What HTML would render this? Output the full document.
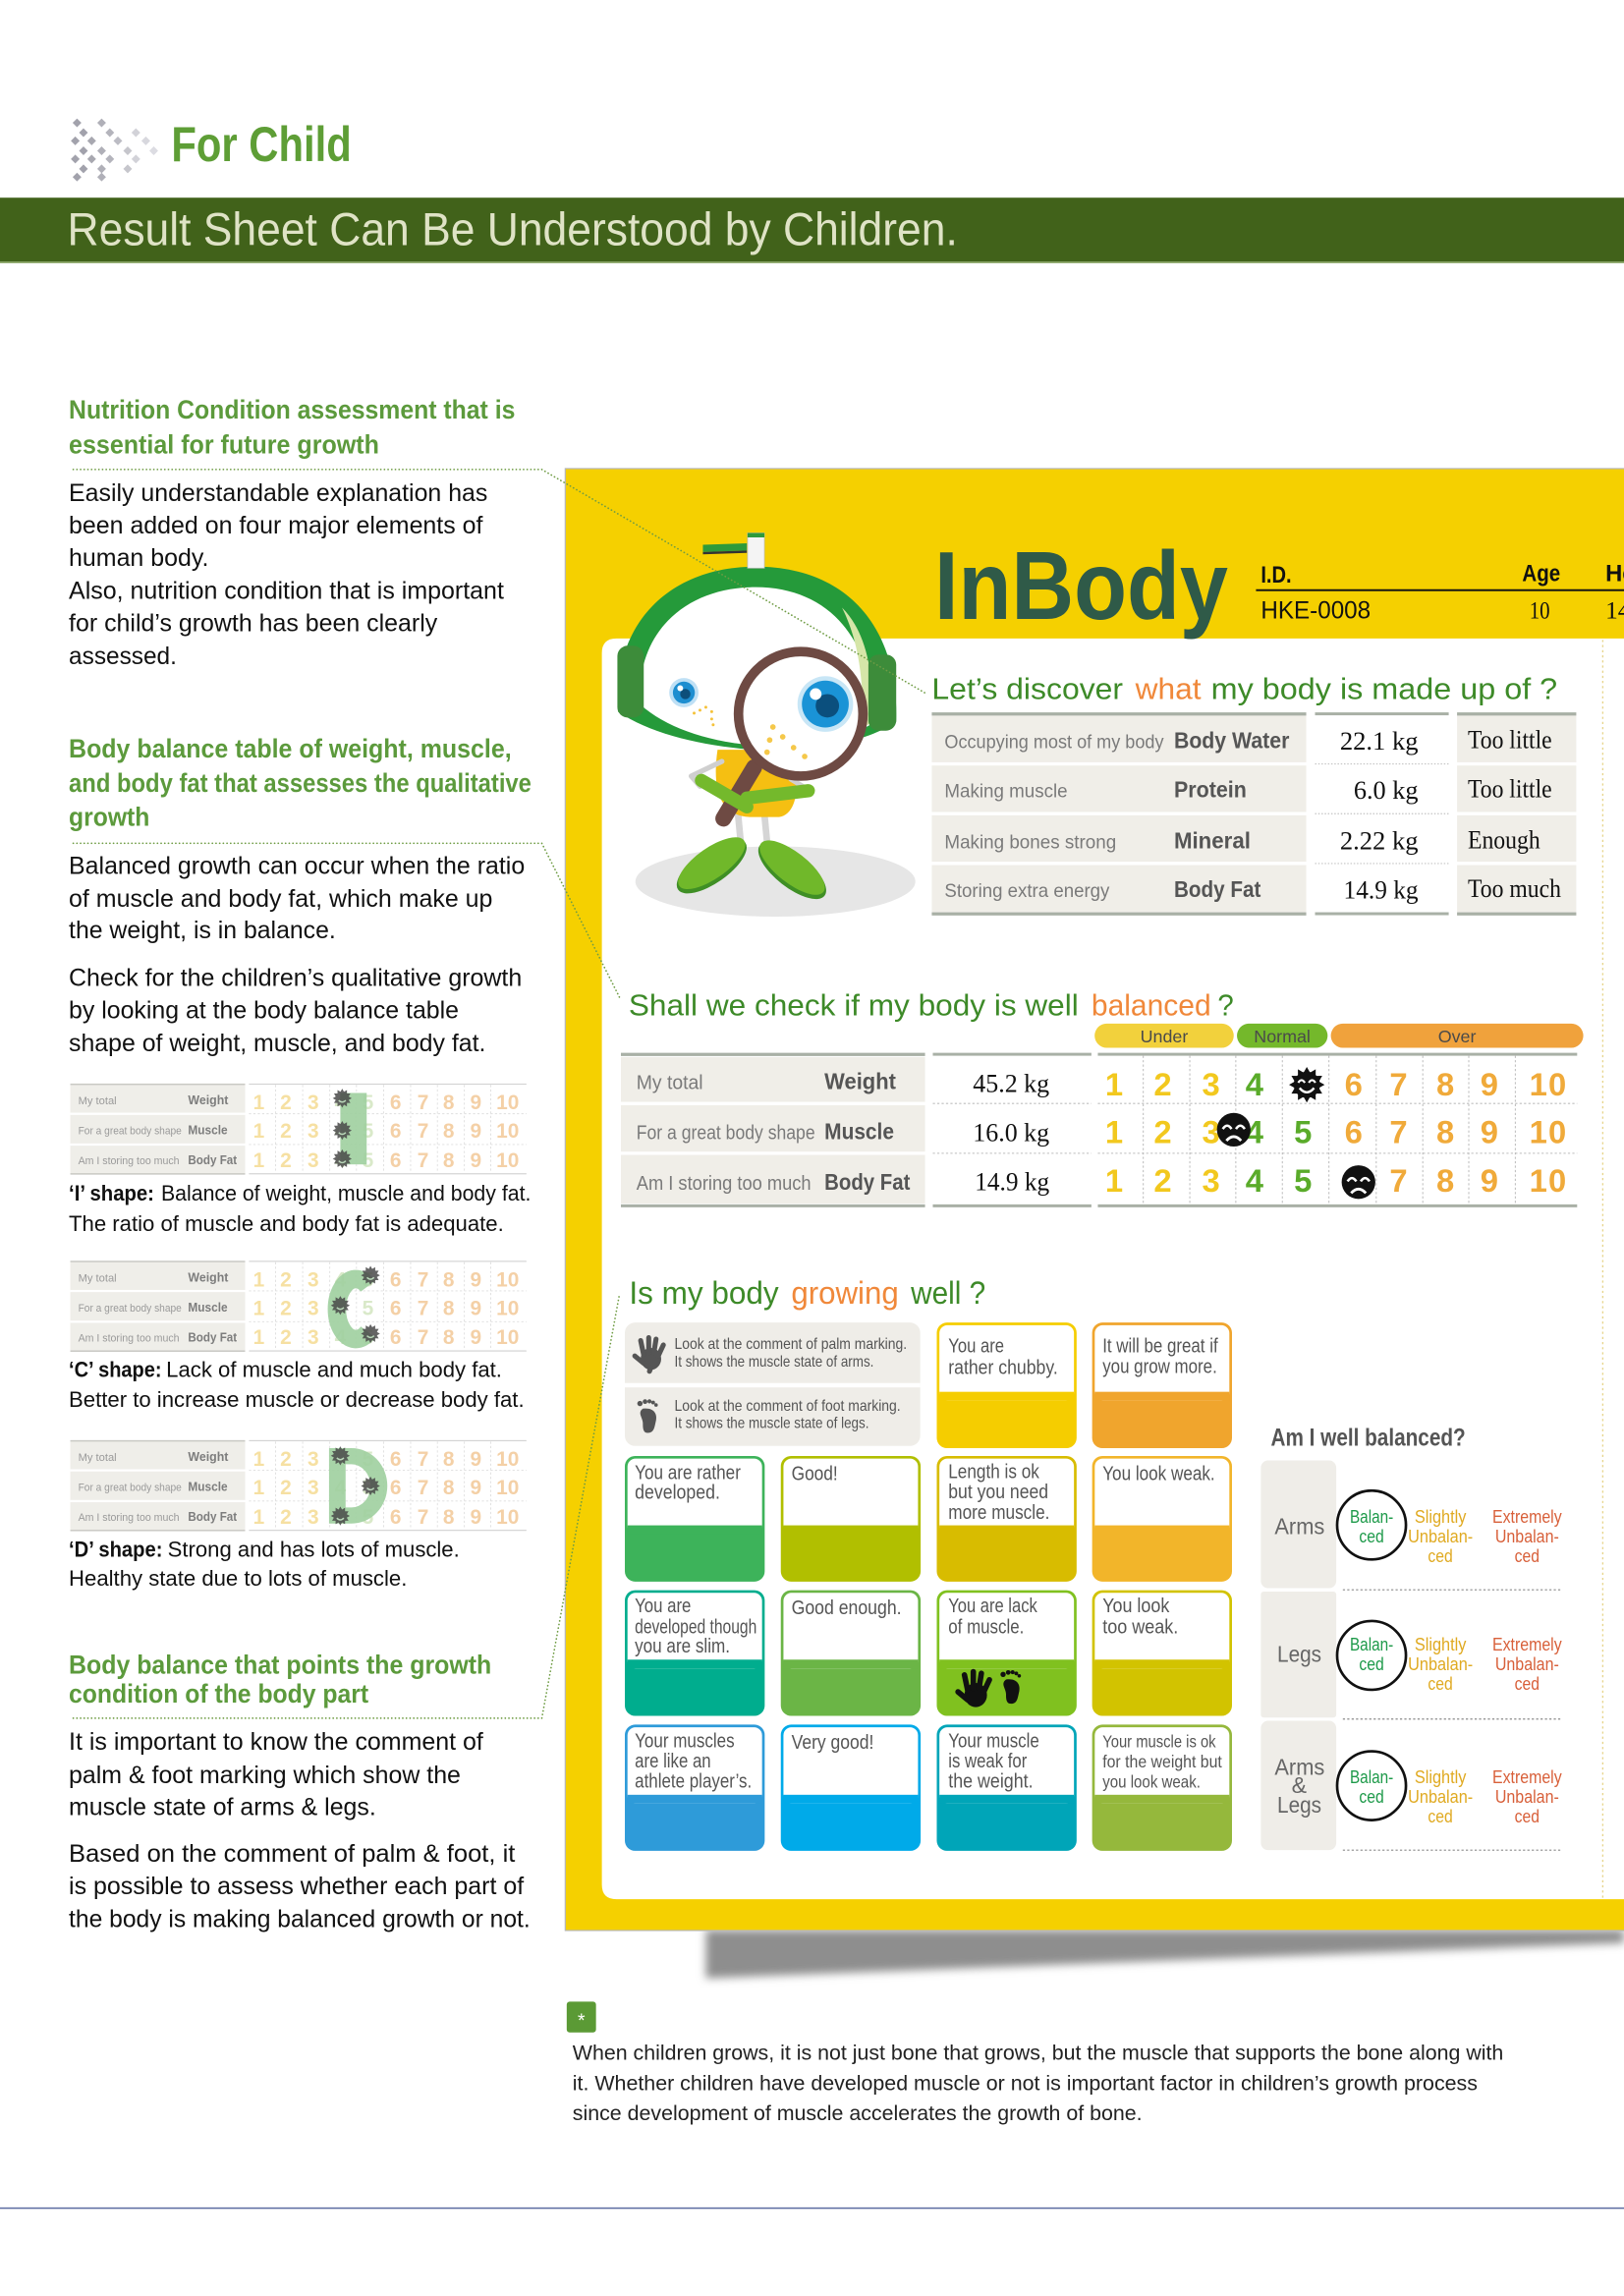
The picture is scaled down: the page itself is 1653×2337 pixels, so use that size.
<!DOCTYPE html>
<html><head><meta charset="utf-8">
<style>html,body{margin:0;padding:0;background:#fff;overflow:hidden}svg{display:block}</style>
</head><body>
<svg xmlns="http://www.w3.org/2000/svg" width="1653" height="2337" viewBox="0 0 1109 1568" preserveAspectRatio="none" font-family="'Liberation Sans', Arial, sans-serif">
<defs>
<filter id="blur" x="-10%" y="-50%" width="120%" height="200%"><feGaussianBlur stdDeviation="3"/></filter>
</defs>
<rect x="0" y="0" width="1109" height="1568" fill="#fff"/>

<!-- ===== HEADER ===== -->
<g>
<polygon points="52.6,80.9 55.6,83.9 52.6,86.9 49.6,83.9" fill="#a2a2ac"/>
<polygon points="69.4,80.9 72.4,83.9 69.4,86.9 66.4,83.9" fill="#b0b0b8"/>
<polygon points="57,87.6 60,90.6 57,93.6 54,90.6" fill="#a2a2ac"/>
<polygon points="75,87.6 78,90.6 75,93.6 72,90.6" fill="#b4b4bc"/>
<polygon points="92.8,87.6 95.8,90.6 92.8,93.6 89.8,90.6" fill="#d2d2d8"/>
<polygon points="51.4,93.2 54.4,96.2 51.4,99.2 48.4,96.2" fill="#a2a2ac"/>
<polygon points="62.6,93.2 65.6,96.2 62.6,99.2 59.6,96.2" fill="#a8a8b0"/>
<polygon points="80.5,93.2 83.5,96.2 80.5,99.2 77.5,96.2" fill="#bcbcc4"/>
<polygon points="99.6,93.2 102.6,96.2 99.6,99.2 96.6,96.2" fill="#d8d8de"/>
<polygon points="57,100 60,103 57,106 54,103" fill="#a2a2ac"/>
<polygon points="69.4,100 72.4,103 69.4,106 66.4,103" fill="#b0b0b8"/>
<polygon points="87.2,100 90.2,103 87.2,106 84.2,103" fill="#c6c6cc"/>
<polygon points="105,100 108,103 105,106 102,103" fill="#dcdce2"/>
<polygon points="51.4,105.6 54.4,108.6 51.4,111.6 48.4,108.6" fill="#a2a2ac"/>
<polygon points="62.6,105.6 65.6,108.6 62.6,111.6 59.6,108.6" fill="#a8a8b0"/>
<polygon points="75,105.6 78,108.6 75,111.6 72,108.6" fill="#b4b4bc"/>
<polygon points="92.8,105.6 95.8,108.6 92.8,111.6 89.8,108.6" fill="#d2d2d8"/>
<polygon points="57,112.3 60,115.3 57,118.3 54,115.3" fill="#a2a2ac"/>
<polygon points="69.4,112.3 72.4,115.3 69.4,118.3 66.4,115.3" fill="#b0b0b8"/>
<polygon points="87.2,112.3 90.2,115.3 87.2,118.3 84.2,115.3" fill="#c6c6cc"/>
<polygon points="52.6,117.9 55.6,120.9 52.6,123.9 49.6,120.9" fill="#a2a2ac"/>
<polygon points="69.4,117.9 72.4,120.9 69.4,123.9 66.4,120.9" fill="#b0b0b8"/>
</g>
<text x="117" y="110" font-size="33.5" font-weight="bold" fill="#5e9e36" textLength="123" lengthAdjust="spacingAndGlyphs">For Child</text>
<rect x="0" y="135" width="1109" height="44.5" fill="#41621a"/>
<rect x="0" y="178.6" width="1109" height="1.2" fill="#93ad72"/>
<text x="46" y="167.3" font-size="32" fill="#dfe3c6" textLength="608" lengthAdjust="spacingAndGlyphs">Result Sheet Can Be Understood by Children.</text>

<!-- ===== LEFT COLUMN ===== -->
<g font-weight="bold" fill="#5c9a3c" font-size="18">
<text x="47" y="285.8" textLength="304.8" lengthAdjust="spacingAndGlyphs">Nutrition Condition assessment that is</text>
<text x="47" y="309.8" textLength="211.9" lengthAdjust="spacingAndGlyphs">essential for future growth</text>
<text x="47" y="517.4" textLength="302.3" lengthAdjust="spacingAndGlyphs">Body balance table of weight, muscle,</text>
<text x="47" y="540.8" textLength="315.9" lengthAdjust="spacingAndGlyphs">and body fat that assesses the qualitative</text>
<text x="47" y="563.9" textLength="55.2" lengthAdjust="spacingAndGlyphs">growth</text>
<text x="47" y="1142.8" textLength="288.6" lengthAdjust="spacingAndGlyphs">Body balance that points the growth</text>
<text x="47" y="1162.9" textLength="204.7" lengthAdjust="spacingAndGlyphs">condition of the body part</text>
</g>
<g fill="#111" font-size="17">
<text x="47" y="342.1" textLength="286" lengthAdjust="spacingAndGlyphs">Easily understandable explanation has</text>
<text x="47" y="364.3" textLength="282.7" lengthAdjust="spacingAndGlyphs">been added on four major elements of</text>
<text x="47" y="386.5" textLength="95.5" lengthAdjust="spacingAndGlyphs">human body.</text>
<text x="47" y="409" textLength="297.1" lengthAdjust="spacingAndGlyphs">Also, nutrition condition that is important</text>
<text x="47" y="431.1" textLength="251.7" lengthAdjust="spacingAndGlyphs">for child’s growth has been clearly</text>
<text x="47" y="453.6" textLength="73.7" lengthAdjust="spacingAndGlyphs">assessed.</text>
<text x="47" y="596.8" textLength="311.4" lengthAdjust="spacingAndGlyphs">Balanced growth can occur when the ratio</text>
<text x="47" y="619.3" textLength="289.4" lengthAdjust="spacingAndGlyphs">of muscle and body fat, which make up</text>
<text x="47" y="640.9" textLength="182.3" lengthAdjust="spacingAndGlyphs">the weight, is in balance.</text>
<text x="47" y="673.2" textLength="309.4" lengthAdjust="spacingAndGlyphs">Check for the children’s qualitative growth</text>
<text x="47" y="695.4" textLength="266.3" lengthAdjust="spacingAndGlyphs">by looking at the body balance table</text>
<text x="47" y="717.9" textLength="284.7" lengthAdjust="spacingAndGlyphs">shape of weight, muscle, and body fat.</text>
<text x="47" y="1194.9" textLength="283" lengthAdjust="spacingAndGlyphs">It is important to know the comment of</text>
<text x="47" y="1217.7" textLength="267.6" lengthAdjust="spacingAndGlyphs">palm &amp; foot marking which show the</text>
<text x="47" y="1239.6" textLength="209.8" lengthAdjust="spacingAndGlyphs">muscle state of arms &amp; legs.</text>
<text x="47" y="1271.4" textLength="304.8" lengthAdjust="spacingAndGlyphs">Based on the comment of palm &amp; foot, it</text>
<text x="47" y="1293.7" textLength="310.7" lengthAdjust="spacingAndGlyphs">is possible to assess whether each part of</text>
<text x="47" y="1316.1" textLength="315.1" lengthAdjust="spacingAndGlyphs">the body is making balanced growth or not.</text>
</g>

<!-- mini tables -->
<g id="mini1">
<rect x="48" y="740.5" width="119.4" height="61.1" fill="#efeee9"/>
<rect x="48" y="759.9" width="119.4" height="1.5" fill="#fff"/>
<rect x="48" y="780.9" width="119.4" height="1.5" fill="#fff"/>
<rect x="48" y="740" width="119.4" height="1" fill="#c9c9c4"/>
<rect x="48" y="801.2" width="119.4" height="1" fill="#c9c9c4"/>
<rect x="170" y="740" width="189.5" height="0.8" fill="#d4d4d4"/>
<rect x="170" y="801.2" width="189.5" height="0.8" fill="#d4d4d4"/>
<g stroke="#dedede" stroke-width="0.6" stroke-dasharray="1.5 1.5">
<line x1="188.2" y1="741" x2="188.2" y2="801"/><line x1="206.7" y1="741" x2="206.7" y2="801"/><line x1="225.2" y1="741" x2="225.2" y2="801"/><line x1="243.4" y1="741" x2="243.4" y2="801"/><line x1="262" y1="741" x2="262" y2="801"/><line x1="280.4" y1="741" x2="280.4" y2="801"/><line x1="298.7" y1="741" x2="298.7" y2="801"/><line x1="317.1" y1="741" x2="317.1" y2="801"/><line x1="335.1" y1="741" x2="335.1" y2="801"/>
<line x1="170" y1="760.6" x2="359.5" y2="760.6"/><line x1="170" y1="781.6" x2="359.5" y2="781.6"/>
</g>
<g font-size="7.5" fill="#9a9a9a">
<text x="53.4" y="754.1" textLength="26.2" lengthAdjust="spacingAndGlyphs">My total</text>
<text x="53.4" y="774.7" textLength="70.6" lengthAdjust="spacingAndGlyphs">For a great body shape</text>
<text x="53.4" y="795.2" textLength="69.1" lengthAdjust="spacingAndGlyphs">Am I storing too much</text>
</g>
<g font-size="8.5" font-weight="bold" fill="#7d7d7d">
<text x="128.4" y="754.1" textLength="27.5" lengthAdjust="spacingAndGlyphs">Weight</text>
<text x="128.4" y="774.7" textLength="27" lengthAdjust="spacingAndGlyphs">Muscle</text>
<text x="128.4" y="795.2" textLength="33.4" lengthAdjust="spacingAndGlyphs">Body Fat</text>
</g>
<g font-size="14" font-weight="bold" text-anchor="middle">
<text y="757.5"><tspan x="176.7 195.2 213.9" fill="#f6e0a2">123</tspan><tspan x="232.4 251.2" fill="#d9e9c9">45</tspan><tspan x="270.2 288.9 306.4 324.9 342.8 350.6" fill="#f4d0a6">678910</tspan></text>
<text y="777"><tspan x="176.7 195.2 213.9" fill="#f6e0a2">123</tspan><tspan x="232.4 251.2" fill="#d9e9c9">45</tspan><tspan x="270.2 288.9 306.4 324.9 342.8 350.6" fill="#f4d0a6">678910</tspan></text>
<text y="797"><tspan x="176.7 195.2 213.9" fill="#f6e0a2">123</tspan><tspan x="232.4 251.2" fill="#d9e9c9">45</tspan><tspan x="270.2 288.9 306.4 324.9 342.8 350.6" fill="#f4d0a6">678910</tspan></text>
</g>
</g>
<g transform="translate(0,121)">
<rect x="48" y="740.5" width="119.4" height="61.1" fill="#efeee9"/>
<rect x="48" y="759.9" width="119.4" height="1.5" fill="#fff"/>
<rect x="48" y="780.9" width="119.4" height="1.5" fill="#fff"/>
<rect x="48" y="740" width="119.4" height="1" fill="#c9c9c4"/>
<rect x="48" y="801.2" width="119.4" height="1" fill="#c9c9c4"/>
<rect x="170" y="740" width="189.5" height="0.8" fill="#d4d4d4"/>
<rect x="170" y="801.2" width="189.5" height="0.8" fill="#d4d4d4"/>
<g stroke="#dedede" stroke-width="0.6" stroke-dasharray="1.5 1.5">
<line x1="188.2" y1="741" x2="188.2" y2="801"/><line x1="206.7" y1="741" x2="206.7" y2="801"/><line x1="225.2" y1="741" x2="225.2" y2="801"/><line x1="243.4" y1="741" x2="243.4" y2="801"/><line x1="262" y1="741" x2="262" y2="801"/><line x1="280.4" y1="741" x2="280.4" y2="801"/><line x1="298.7" y1="741" x2="298.7" y2="801"/><line x1="317.1" y1="741" x2="317.1" y2="801"/><line x1="335.1" y1="741" x2="335.1" y2="801"/>
<line x1="170" y1="760.6" x2="359.5" y2="760.6"/><line x1="170" y1="781.6" x2="359.5" y2="781.6"/>
</g>
<g font-size="7.5" fill="#9a9a9a">
<text x="53.4" y="754.1" textLength="26.2" lengthAdjust="spacingAndGlyphs">My total</text>
<text x="53.4" y="774.7" textLength="70.6" lengthAdjust="spacingAndGlyphs">For a great body shape</text>
<text x="53.4" y="795.2" textLength="69.1" lengthAdjust="spacingAndGlyphs">Am I storing too much</text>
</g>
<g font-size="8.5" font-weight="bold" fill="#7d7d7d">
<text x="128.4" y="754.1" textLength="27.5" lengthAdjust="spacingAndGlyphs">Weight</text>
<text x="128.4" y="774.7" textLength="27" lengthAdjust="spacingAndGlyphs">Muscle</text>
<text x="128.4" y="795.2" textLength="33.4" lengthAdjust="spacingAndGlyphs">Body Fat</text>
</g>
<g font-size="14" font-weight="bold" text-anchor="middle">
<text y="757.5"><tspan x="176.7 195.2 213.9" fill="#f6e0a2">123</tspan><tspan x="232.4 251.2" fill="#d9e9c9">45</tspan><tspan x="270.2 288.9 306.4 324.9 342.8 350.6" fill="#f4d0a6">678910</tspan></text>
<text y="777"><tspan x="176.7 195.2 213.9" fill="#f6e0a2">123</tspan><tspan x="232.4 251.2" fill="#d9e9c9">45</tspan><tspan x="270.2 288.9 306.4 324.9 342.8 350.6" fill="#f4d0a6">678910</tspan></text>
<text y="797"><tspan x="176.7 195.2 213.9" fill="#f6e0a2">123</tspan><tspan x="232.4 251.2" fill="#d9e9c9">45</tspan><tspan x="270.2 288.9 306.4 324.9 342.8 350.6" fill="#f4d0a6">678910</tspan></text>
</g>
</g>
<g transform="translate(0,243.5)">
<rect x="48" y="740.5" width="119.4" height="61.1" fill="#efeee9"/>
<rect x="48" y="759.9" width="119.4" height="1.5" fill="#fff"/>
<rect x="48" y="780.9" width="119.4" height="1.5" fill="#fff"/>
<rect x="48" y="740" width="119.4" height="1" fill="#c9c9c4"/>
<rect x="48" y="801.2" width="119.4" height="1" fill="#c9c9c4"/>
<rect x="170" y="740" width="189.5" height="0.8" fill="#d4d4d4"/>
<rect x="170" y="801.2" width="189.5" height="0.8" fill="#d4d4d4"/>
<g stroke="#dedede" stroke-width="0.6" stroke-dasharray="1.5 1.5">
<line x1="188.2" y1="741" x2="188.2" y2="801"/><line x1="206.7" y1="741" x2="206.7" y2="801"/><line x1="225.2" y1="741" x2="225.2" y2="801"/><line x1="243.4" y1="741" x2="243.4" y2="801"/><line x1="262" y1="741" x2="262" y2="801"/><line x1="280.4" y1="741" x2="280.4" y2="801"/><line x1="298.7" y1="741" x2="298.7" y2="801"/><line x1="317.1" y1="741" x2="317.1" y2="801"/><line x1="335.1" y1="741" x2="335.1" y2="801"/>
<line x1="170" y1="760.6" x2="359.5" y2="760.6"/><line x1="170" y1="781.6" x2="359.5" y2="781.6"/>
</g>
<g font-size="7.5" fill="#9a9a9a">
<text x="53.4" y="754.1" textLength="26.2" lengthAdjust="spacingAndGlyphs">My total</text>
<text x="53.4" y="774.7" textLength="70.6" lengthAdjust="spacingAndGlyphs">For a great body shape</text>
<text x="53.4" y="795.2" textLength="69.1" lengthAdjust="spacingAndGlyphs">Am I storing too much</text>
</g>
<g font-size="8.5" font-weight="bold" fill="#7d7d7d">
<text x="128.4" y="754.1" textLength="27.5" lengthAdjust="spacingAndGlyphs">Weight</text>
<text x="128.4" y="774.7" textLength="27" lengthAdjust="spacingAndGlyphs">Muscle</text>
<text x="128.4" y="795.2" textLength="33.4" lengthAdjust="spacingAndGlyphs">Body Fat</text>
</g>
<g font-size="14" font-weight="bold" text-anchor="middle">
<text y="757.5"><tspan x="176.7 195.2 213.9" fill="#f6e0a2">123</tspan><tspan x="232.4 251.2" fill="#d9e9c9">45</tspan><tspan x="270.2 288.9 306.4 324.9 342.8 350.6" fill="#f4d0a6">678910</tspan></text>
<text y="777"><tspan x="176.7 195.2 213.9" fill="#f6e0a2">123</tspan><tspan x="232.4 251.2" fill="#d9e9c9">45</tspan><tspan x="270.2 288.9 306.4 324.9 342.8 350.6" fill="#f4d0a6">678910</tspan></text>
<text y="797"><tspan x="176.7 195.2 213.9" fill="#f6e0a2">123</tspan><tspan x="232.4 251.2" fill="#d9e9c9">45</tspan><tspan x="270.2 288.9 306.4 324.9 342.8 350.6" fill="#f4d0a6">678910</tspan></text>
</g>
</g>
<!-- letter shapes -->
<g fill="#9fcf9f" fill-opacity="0.9">
<rect x="232.4" y="746.4" width="18" height="48.8"/>
<path d="M251.4 878.3 A13 20.5 0 1 0 251.4 909.7" fill="none" stroke="#9fcf9f" stroke-opacity="0.9" stroke-width="12.5"/>
<path fill-rule="evenodd" d="M224.7 989 H240 A24.5 25.75 0 0 1 240 1040.5 H224.7 Z M236 1000 H240 A13 14.75 0 0 1 240 1029.5 H236 Z"/>
</g>
<!-- bugs -->
<g fill="#4a4a4a" opacity="0.85">
<g transform="translate(233.7,750) scale(0.48)"><polygon points="13.5,0 9.18,2.46 11.69,6.75 6.72,6.72 6.75,11.69 2.46,9.18 0,13.5 -2.46,9.18 -6.75,11.69 -6.72,6.72 -11.69,6.75 -9.18,2.46 -13.5,0 -9.18,-2.46 -11.69,-6.75 -6.72,-6.72 -6.75,-11.69 -2.46,-9.18 0,-13.5 2.46,-9.18 6.75,-11.69 6.72,-6.72 11.69,-6.75 9.18,-2.46"/><path d="M-5 3 Q0 8 5 3" stroke="#bdd9bd" stroke-width="2" fill="none"/></g>
<g transform="translate(233.7,772) scale(0.48)"><polygon points="13.5,0 9.18,2.46 11.69,6.75 6.72,6.72 6.75,11.69 2.46,9.18 0,13.5 -2.46,9.18 -6.75,11.69 -6.72,6.72 -11.69,6.75 -9.18,2.46 -13.5,0 -9.18,-2.46 -11.69,-6.75 -6.72,-6.72 -6.75,-11.69 -2.46,-9.18 0,-13.5 2.46,-9.18 6.75,-11.69 6.72,-6.72 11.69,-6.75 9.18,-2.46"/><path d="M-5 3 Q0 8 5 3" stroke="#bdd9bd" stroke-width="2" fill="none"/></g>
<g transform="translate(233.7,791.4) scale(0.48)"><polygon points="13.5,0 9.18,2.46 11.69,6.75 6.72,6.72 6.75,11.69 2.46,9.18 0,13.5 -2.46,9.18 -6.75,11.69 -6.72,6.72 -11.69,6.75 -9.18,2.46 -13.5,0 -9.18,-2.46 -11.69,-6.75 -6.72,-6.72 -6.75,-11.69 -2.46,-9.18 0,-13.5 2.46,-9.18 6.75,-11.69 6.72,-6.72 11.69,-6.75 9.18,-2.46"/><path d="M-5 3 Q0 8 5 3" stroke="#bdd9bd" stroke-width="2" fill="none"/></g>
<g transform="translate(253,871) scale(0.48)"><polygon points="13.5,0 9.18,2.46 11.69,6.75 6.72,6.72 6.75,11.69 2.46,9.18 0,13.5 -2.46,9.18 -6.75,11.69 -6.72,6.72 -11.69,6.75 -9.18,2.46 -13.5,0 -9.18,-2.46 -11.69,-6.75 -6.72,-6.72 -6.75,-11.69 -2.46,-9.18 0,-13.5 2.46,-9.18 6.75,-11.69 6.72,-6.72 11.69,-6.75 9.18,-2.46"/><path d="M-5 3 Q0 8 5 3" stroke="#bdd9bd" stroke-width="2" fill="none"/></g>
<g transform="translate(232.4,891.5) scale(0.48)"><polygon points="13.5,0 9.18,2.46 11.69,6.75 6.72,6.72 6.75,11.69 2.46,9.18 0,13.5 -2.46,9.18 -6.75,11.69 -6.72,6.72 -11.69,6.75 -9.18,2.46 -13.5,0 -9.18,-2.46 -11.69,-6.75 -6.72,-6.72 -6.75,-11.69 -2.46,-9.18 0,-13.5 2.46,-9.18 6.75,-11.69 6.72,-6.72 11.69,-6.75 9.18,-2.46"/><path d="M-5 3 Q0 8 5 3" stroke="#bdd9bd" stroke-width="2" fill="none"/></g>
<g transform="translate(253,910.8) scale(0.48)"><polygon points="13.5,0 9.18,2.46 11.69,6.75 6.72,6.72 6.75,11.69 2.46,9.18 0,13.5 -2.46,9.18 -6.75,11.69 -6.72,6.72 -11.69,6.75 -9.18,2.46 -13.5,0 -9.18,-2.46 -11.69,-6.75 -6.72,-6.72 -6.75,-11.69 -2.46,-9.18 0,-13.5 2.46,-9.18 6.75,-11.69 6.72,-6.72 11.69,-6.75 9.18,-2.46"/><path d="M-5 3 Q0 8 5 3" stroke="#bdd9bd" stroke-width="2" fill="none"/></g>
<g transform="translate(232.4,994.2) scale(0.48)"><polygon points="13.5,0 9.18,2.46 11.69,6.75 6.72,6.72 6.75,11.69 2.46,9.18 0,13.5 -2.46,9.18 -6.75,11.69 -6.72,6.72 -11.69,6.75 -9.18,2.46 -13.5,0 -9.18,-2.46 -11.69,-6.75 -6.72,-6.72 -6.75,-11.69 -2.46,-9.18 0,-13.5 2.46,-9.18 6.75,-11.69 6.72,-6.72 11.69,-6.75 9.18,-2.46"/><path d="M-5 3 Q0 8 5 3" stroke="#bdd9bd" stroke-width="2" fill="none"/></g>
<g transform="translate(253,1014.8) scale(0.48)"><polygon points="13.5,0 9.18,2.46 11.69,6.75 6.72,6.72 6.75,11.69 2.46,9.18 0,13.5 -2.46,9.18 -6.75,11.69 -6.72,6.72 -11.69,6.75 -9.18,2.46 -13.5,0 -9.18,-2.46 -11.69,-6.75 -6.72,-6.72 -6.75,-11.69 -2.46,-9.18 0,-13.5 2.46,-9.18 6.75,-11.69 6.72,-6.72 11.69,-6.75 9.18,-2.46"/><path d="M-5 3 Q0 8 5 3" stroke="#bdd9bd" stroke-width="2" fill="none"/></g>
<g transform="translate(232.4,1035.3) scale(0.48)"><polygon points="13.5,0 9.18,2.46 11.69,6.75 6.72,6.72 6.75,11.69 2.46,9.18 0,13.5 -2.46,9.18 -6.75,11.69 -6.72,6.72 -11.69,6.75 -9.18,2.46 -13.5,0 -9.18,-2.46 -11.69,-6.75 -6.72,-6.72 -6.75,-11.69 -2.46,-9.18 0,-13.5 2.46,-9.18 6.75,-11.69 6.72,-6.72 11.69,-6.75 9.18,-2.46"/><path d="M-5 3 Q0 8 5 3" stroke="#bdd9bd" stroke-width="2" fill="none"/></g>
</g>
<!-- captions -->
<g fill="#111" font-size="15">
<text x="47" y="820" font-weight="bold" textLength="58.3" lengthAdjust="spacingAndGlyphs">‘I’ shape:</text>
<text x="110" y="820" textLength="252.6" lengthAdjust="spacingAndGlyphs">Balance of weight, muscle and body fat.</text>
<text x="47" y="840.7" textLength="297" lengthAdjust="spacingAndGlyphs">The ratio of muscle and body fat is adequate.</text>
<text x="47" y="940.3" font-weight="bold" textLength="63.4" lengthAdjust="spacingAndGlyphs">‘C’ shape:</text>
<text x="113.5" y="940.3" textLength="229.3" lengthAdjust="spacingAndGlyphs">Lack of muscle and much body fat.</text>
<text x="47" y="960.8" textLength="311" lengthAdjust="spacingAndGlyphs">Better to increase muscle or decrease body fat.</text>
<text x="47" y="1063" font-weight="bold" textLength="64" lengthAdjust="spacingAndGlyphs">‘D’ shape:</text>
<text x="114.5" y="1063" textLength="199.3" lengthAdjust="spacingAndGlyphs">Strong and has lots of muscle.</text>
<text x="47" y="1082.8" textLength="231" lengthAdjust="spacingAndGlyphs">Healthy state due to lots of muscle.</text>
</g>

<!-- ===== YELLOW PANEL ===== -->
<polygon points="482,1318 1109,1318 1109,1327 482,1351" fill="#8e8e8e" filter="url(#blur)"/>
<rect x="386" y="320" width="740" height="998.4" fill="#f5d000" stroke="#b7b7b7" stroke-width="0.8"/>
<path d="M421 436 H1120 V1297 H421 Q411 1297 411 1287 V446 Q411 436 421 436 Z" fill="#fff"/>
<line x1="1094.5" y1="437" x2="1094.5" y2="1296" stroke="#e7d58c" stroke-width="0.9" stroke-dasharray="1.5 2"/>

<!-- InBody header -->
<text x="638" y="422.6" font-size="66" font-weight="bold" fill="#2f5a48" textLength="200.6" lengthAdjust="spacingAndGlyphs">InBody</text>
<g font-weight="bold" font-size="16" fill="#111">
<text x="861" y="398" textLength="21" lengthAdjust="spacingAndGlyphs">I.D.</text>
<text x="1039.5" y="397" textLength="26" lengthAdjust="spacingAndGlyphs">Age</text>
<text x="1096.3" y="397">He</text>
</g>
<rect x="857.7" y="402.4" width="260" height="1.3" fill="#111"/>
<text x="861" y="422.2" font-size="17" fill="#111" textLength="75" lengthAdjust="spacingAndGlyphs">HKE-0008</text>
<g font-family="'Liberation Serif', serif" font-size="17" fill="#111">
<text x="1044.4" y="422.2" textLength="14" lengthAdjust="spacingAndGlyphs">10</text>
<text x="1096.3" y="422.2">14</text>
</g>

<!-- mascot -->
<g>
<ellipse cx="529.5" cy="602" rx="95.6" ry="24" fill="#e6e6e6"/>
<path d="M504 556 L506 577" stroke="#d5d5d5" stroke-width="4.5" stroke-linecap="round"/>
<path d="M522 556 L524 577" stroke="#d5d5d5" stroke-width="4.5" stroke-linecap="round"/>
<ellipse cx="486" cy="591.5" rx="28" ry="11.5" transform="rotate(-35 486 591.5)" fill="#3f8f25"/>
<ellipse cx="486" cy="589.5" rx="27" ry="10.5" transform="rotate(-35 486 589.5)" fill="#70b82a"/>
<ellipse cx="541" cy="594.5" rx="28" ry="11.5" transform="rotate(38 541 594.5)" fill="#3f8f25"/>
<ellipse cx="541" cy="592.5" rx="27" ry="10.5" transform="rotate(38 541 592.5)" fill="#70b82a"/>
<path d="M490 512 C486 540 492 557 512 558 L532 558 C545 556 546 535 543 512 Z" fill="#f5bf12"/>
<path d="M493 520 L472 530 L478 537" stroke="#cfcfcf" stroke-width="3.5" fill="none" stroke-linecap="round" stroke-linejoin="round"/>
<path d="M540 532 L553 540" stroke="#cfcfcf" stroke-width="3.5" fill="none" stroke-linecap="round"/>
<path d="M515 524 L494 559" stroke="#6e4a43" stroke-width="11" stroke-linecap="round"/>
<path d="M479 533 L510 551" stroke="#74b92c" stroke-width="9" stroke-linecap="round"/>
<path d="M510 545 L552 540" stroke="#74b92c" stroke-width="9" stroke-linecap="round"/>
<path d="M422 486 C418 425 458 387 516 387 C578 387 614 428 612 493 C590 508 548 514 514 512 C478 509 444 501 422 486 Z" fill="#259a3a"/>
<path d="M437 481 C434 432 468 401 516 401 C566 401 597 437 596 494 C574 507 546 510 514 509 C482 506 455 497 437 481 Z" fill="#fff"/>
<path d="M575 415 C590 430 597 455 596 494 L589 496 C590 460 585 435 575 415 Z" fill="#d6e6a8"/>
<rect x="421.6" y="441" width="18" height="49" rx="7" fill="#3d8c3a"/>
<rect x="593" y="447" width="19" height="52" rx="7" fill="#3d8c3a"/>
<circle cx="467" cy="473" r="10" fill="#bfe0f5"/>
<circle cx="467" cy="473" r="7.5" fill="#1e8ed0"/>
<circle cx="468" cy="474" r="3.5" fill="#0d4f7a"/>
<circle cx="464.5" cy="470" r="2" fill="#fff"/>
<g fill="#f5c23a"><circle cx="474" cy="487" r="1"/><circle cx="478" cy="485" r="1"/><circle cx="482" cy="483" r="1"/><circle cx="486" cy="486" r="1"/><circle cx="486" cy="491" r="1"/><circle cx="487" cy="495" r="1"/></g>
<circle cx="546.8" cy="487.5" r="42.5" fill="#fff" stroke="#6e4a43" stroke-width="6.5"/>
<circle cx="563.6" cy="480.8" r="19" fill="#c8e6f6"/>
<circle cx="563.6" cy="480.8" r="16" fill="#1a93d6"/>
<circle cx="565" cy="482" r="8" fill="#0b4f7d"/>
<circle cx="557" cy="474" r="4" fill="#fff"/>
<g fill="#f5c84a"><circle cx="527.8" cy="496.5" r="1.9"/><circle cx="534.5" cy="503.2" r="1.9"/><circle cx="525.6" cy="505.4" r="1.9"/><circle cx="541.9" cy="510.6" r="1.9"/><circle cx="523.8" cy="513.7" r="1.9"/><circle cx="549.5" cy="516.6" r="1.9"/></g>
<rect x="510.5" y="364" width="11.5" height="24" fill="#f4f4f4" stroke="#bbb" stroke-width="0.5"/>
<rect x="510.5" y="364" width="11.5" height="3" fill="#2e9a3a"/>
<path d="M480 372 L510 371 L510 376 L480 377 Z" fill="#2e9a3a"/>
<path d="M480 377 L510 376 L510 377.6 L480 378.6 Z" fill="#333"/>
</g>

<!-- dotted connectors -->
<g fill="none" stroke="#6f9c44" stroke-width="1.1" stroke-dasharray="0.1 2.4" stroke-linecap="round">
<path d="M50 320.6 H370 L633 474"/>
<path d="M50 575.9 H370 L423 681"/>
<path d="M50 1173.4 H370 L423 884"/>
</g>

<!-- Let's discover -->
<g font-size="20.5">
<text x="636.3" y="477.4" fill="#3d8a28" textLength="130.6" lengthAdjust="spacingAndGlyphs">Let’s discover</text>
<text x="775.3" y="477.4" fill="#f0883a" textLength="44.9" lengthAdjust="spacingAndGlyphs">what</text>
<text x="827" y="477.4" fill="#3d8a28" textLength="236.5" lengthAdjust="spacingAndGlyphs">my body is made up of ?</text>
</g>
<!-- composition table -->
<g>
<rect x="636.3" y="488.6" width="255.7" height="32" fill="#f0eee8"/>
<rect x="636.3" y="522.8" width="255.7" height="31.7" fill="#f0eee8"/>
<rect x="636.3" y="556.8" width="255.7" height="31.7" fill="#f0eee8"/>
<rect x="636.3" y="590.8" width="255.7" height="32" fill="#f0eee8"/>
<rect x="995" y="488.6" width="81.4" height="32" fill="#f0eee8"/>
<rect x="995" y="522.8" width="81.4" height="31.7" fill="#f0eee8"/>
<rect x="995" y="556.8" width="81.4" height="31.7" fill="#f0eee8"/>
<rect x="995" y="590.8" width="81.4" height="32" fill="#f0eee8"/>
<g fill="#a9b0a6">
<rect x="636.3" y="486.5" width="255.7" height="2.2"/><rect x="636.3" y="623" width="255.7" height="2.2"/>
<rect x="898" y="486.5" width="91.3" height="2"/><rect x="898" y="623" width="91.3" height="2"/>
<rect x="995" y="486.5" width="81.4" height="2.2"/><rect x="995" y="623" width="81.4" height="2.2"/>
</g>
<g stroke="#c4c4c4" stroke-width="0.8" stroke-dasharray="1 1.2">
<line x1="898" y1="521.7" x2="989.3" y2="521.7"/><line x1="898" y1="555.7" x2="989.3" y2="555.7"/><line x1="898" y1="589.7" x2="989.3" y2="589.7"/>
</g>
<g font-size="13" fill="#7a7a7a">
<text x="645" y="511" textLength="149.7" lengthAdjust="spacingAndGlyphs">Occupying most of my body</text>
<text x="645" y="544.5" textLength="84" lengthAdjust="spacingAndGlyphs">Making muscle</text>
<text x="645" y="579.2" textLength="117.3" lengthAdjust="spacingAndGlyphs">Making bones strong</text>
<text x="645" y="612.7" textLength="112.7" lengthAdjust="spacingAndGlyphs">Storing extra energy</text>
</g>
<g font-size="15.5" font-weight="bold" fill="#555">
<text x="801.7" y="511" textLength="78.8" lengthAdjust="spacingAndGlyphs">Body Water</text>
<text x="801.7" y="544.5" textLength="49.6" lengthAdjust="spacingAndGlyphs">Protein</text>
<text x="801.7" y="579.2" textLength="52.3" lengthAdjust="spacingAndGlyphs">Mineral</text>
<text x="801.7" y="612.7" textLength="59.3" lengthAdjust="spacingAndGlyphs">Body Fat</text>
</g>
<g font-family="'Liberation Serif', serif" font-size="18" fill="#111">
<text x="915" y="512" textLength="53.5" lengthAdjust="spacingAndGlyphs">22.1 kg</text>
<text x="924.4" y="545.5" textLength="44.1" lengthAdjust="spacingAndGlyphs">6.0 kg</text>
<text x="915" y="580" textLength="53.5" lengthAdjust="spacingAndGlyphs">2.22 kg</text>
<text x="917.5" y="613.5" textLength="51" lengthAdjust="spacingAndGlyphs">14.9 kg</text>
<text x="1002.3" y="511" textLength="57.5" lengthAdjust="spacingAndGlyphs">Too little</text>
<text x="1002.3" y="544.5" textLength="57.5" lengthAdjust="spacingAndGlyphs">Too little</text>
<text x="1002.3" y="579.2" textLength="49.5" lengthAdjust="spacingAndGlyphs">Enough</text>
<text x="1002.3" y="612.7" textLength="63.7" lengthAdjust="spacingAndGlyphs">Too much</text>
</g>
</g>

<!-- Shall we check -->
<g font-size="20.5">
<text x="429.3" y="693.3" fill="#3d8a28" textLength="307.2" lengthAdjust="spacingAndGlyphs">Shall we check if my body is well</text>
<text x="745.3" y="693.3" fill="#f0883a" textLength="81.7" lengthAdjust="spacingAndGlyphs">balanced</text>
<text x="831.5" y="693.3" fill="#3d8a28" textLength="11" lengthAdjust="spacingAndGlyphs">?</text>
</g>
<rect x="747.5" y="699" width="95" height="16.6" rx="8.3" fill="#f2d13c"/>
<rect x="844.7" y="699" width="61.9" height="16.6" rx="8.3" fill="#74b82b"/>
<rect x="908.8" y="699" width="172.4" height="16.6" rx="8.3" fill="#f0a23c"/>
<g font-size="12" fill="#4a4a4a" text-anchor="middle">
<text x="795" y="711.8">Under</text>
<text x="875.6" y="711.8">Normal</text>
<text x="995" y="711.8">Over</text>
</g>
<g>
<rect x="424" y="721.9" width="207.7" height="30.6" fill="#f0eee8"/>
<rect x="424" y="754.8" width="207.7" height="31.7" fill="#f0eee8"/>
<rect x="424" y="788.7" width="207.7" height="33.3" fill="#f0eee8"/>
<g fill="#a9b0a6">
<rect x="424" y="719" width="207.7" height="2.2"/><rect x="424" y="822.5" width="207.7" height="2"/>
<rect x="637" y="719" width="108.3" height="2"/><rect x="637" y="822.5" width="108.3" height="2"/>
<rect x="749.7" y="719" width="327.3" height="2"/><rect x="749.7" y="822.5" width="327.3" height="2"/>
</g>
<g stroke="#bdbdbd" stroke-width="0.7" stroke-dasharray="1.5 1.5">
<line x1="637" y1="753.6" x2="745.3" y2="753.6"/><line x1="637" y1="787.6" x2="745.3" y2="787.6"/>
<line x1="749.7" y1="753.6" x2="1077" y2="753.6"/><line x1="749.7" y1="787.6" x2="1077" y2="787.6"/>
<line x1="780.7" y1="721" x2="780.7" y2="822"/><line x1="812.5" y1="721" x2="812.5" y2="822"/><line x1="843.9" y1="721" x2="843.9" y2="822"/><line x1="875.7" y1="721" x2="875.7" y2="822"/><line x1="907.5" y1="721" x2="907.5" y2="822"/><line x1="939.8" y1="721" x2="939.8" y2="822"/><line x1="971.6" y1="721" x2="971.6" y2="822"/><line x1="1003" y1="721" x2="1003" y2="822"/><line x1="1034.8" y1="721" x2="1034.8" y2="822"/>
</g>
<g font-size="13.5" fill="#7a7a7a">
<text x="434.6" y="743.6" textLength="45.5" lengthAdjust="spacingAndGlyphs">My total</text>
<text x="434.6" y="778" textLength="122" lengthAdjust="spacingAndGlyphs">For a great body shape</text>
<text x="434.6" y="812.5" textLength="119.3" lengthAdjust="spacingAndGlyphs">Am I storing too much</text>
</g>
<g font-size="15.5" font-weight="bold" fill="#555">
<text x="563" y="743.6" textLength="48.8" lengthAdjust="spacingAndGlyphs">Weight</text>
<text x="563" y="778" textLength="47.5" lengthAdjust="spacingAndGlyphs">Muscle</text>
<text x="563" y="812.5" textLength="58.5" lengthAdjust="spacingAndGlyphs">Body Fat</text>
</g>
<g font-family="'Liberation Serif', serif" font-size="18" fill="#111">
<text x="664.4" y="745.8" textLength="52.2" lengthAdjust="spacingAndGlyphs">45.2 kg</text>
<text x="664.4" y="779.4" textLength="52.2" lengthAdjust="spacingAndGlyphs">16.0 kg</text>
<text x="665.7" y="813" textLength="50.9" lengthAdjust="spacingAndGlyphs">14.9 kg</text>
</g>
<g font-size="22" font-weight="bold" text-anchor="middle">
<text y="748"><tspan x="760.8 794 827" fill="#f2c81e">123</tspan><tspan x="856.7" fill="#5aab2a">4</tspan><tspan x="924.3 955 987 1017 1050.5 1063.5" fill="#f0aa3a">678910</tspan></text>
<text y="780.5"><tspan x="760.8 794 827" fill="#f2c81e">123</tspan><tspan x="856.7 889.8" fill="#5aab2a">45</tspan><tspan x="924.3 955 987 1017 1050.5 1063.5" fill="#f0aa3a">678910</tspan></text>
<text y="814"><tspan x="760.8 794 827" fill="#f2c81e">123</tspan><tspan x="856.7 889.8" fill="#5aab2a">45</tspan><tspan x="955 987 1017 1050.5 1063.5" fill="#f0aa3a">78910</tspan></text>
</g>
<g transform="translate(892.4,740.8) scale(0.9)">
<polygon fill="#111" points="13.5,0 9.18,2.46 11.69,6.75 6.72,6.72 6.75,11.69 2.46,9.18 0,13.5 -2.46,9.18 -6.75,11.69 -6.72,6.72 -11.69,6.75 -9.18,2.46 -13.5,0 -9.18,-2.46 -11.69,-6.75 -6.72,-6.72 -6.75,-11.69 -2.46,-9.18 0,-13.5 2.46,-9.18 6.75,-11.69 6.72,-6.72 11.69,-6.75 9.18,-2.46"/>
<circle r="10" fill="#111"/>
<path d="M-6.5 -1.5 Q-4 -5.5 -1.5 -1.5 M1.5 -1.5 Q4 -5.5 6.5 -1.5" stroke="#fff" stroke-width="1.6" fill="none"/>
<path d="M-5.5 2.5 Q0 9 5.5 2.5" stroke="#fff" stroke-width="1.8" fill="none"/>
</g>
<g transform="translate(842.5,771.5)">
<circle r="11.5" fill="#111"/>
<path d="M-7.5 -0.5 Q-4.5 -5 -1.5 -0.5 M1.5 -0.5 Q4.5 -5 7.5 -0.5" stroke="#fff" stroke-width="1.7" fill="none"/>
<path d="M-5 7.5 Q0 2 5 7.5" stroke="#fff" stroke-width="1.9" fill="none"/>
</g>
<g transform="translate(927.7,807.3)">
<circle r="11.5" fill="#111"/>
<path d="M-7.5 -0.5 Q-4.5 -5 -1.5 -0.5 M1.5 -0.5 Q4.5 -5 7.5 -0.5" stroke="#fff" stroke-width="1.7" fill="none"/>
<path d="M-5 7.5 Q0 2 5 7.5" stroke="#fff" stroke-width="1.9" fill="none"/>
</g>
</g>

<!-- Is my body growing well -->
<g font-size="22">
<text x="429.6" y="890.3" fill="#3d8a28" textLength="102.2" lengthAdjust="spacingAndGlyphs">Is my body</text>
<text x="540.3" y="890.3" fill="#f0883a" textLength="73.4" lengthAdjust="spacingAndGlyphs">growing</text>
<text x="622" y="890.3" fill="#3d8a28" textLength="51" lengthAdjust="spacingAndGlyphs">well ?</text>
</g>
<!-- instruction box -->
<rect x="426.7" y="903.2" width="201.7" height="84.3" rx="7" fill="#efede8"/>
<rect x="426.7" y="944.5" width="201.7" height="3" fill="#fff"/>
<g fill="#555">
<g transform="translate(431.5,912)">
<ellipse cx="13" cy="16" rx="7" ry="7.5"/>
<g stroke="#555" stroke-width="3.4" stroke-linecap="round">
<line x1="8" y1="13" x2="6" y2="3.5"/><line x1="11.5" y1="12" x2="11.5" y2="1.5"/><line x1="15" y1="12" x2="16.5" y2="2.5"/><line x1="18" y1="14" x2="21.5" y2="6.5"/><line x1="8" y1="19" x2="2" y2="14"/><line x1="13" y1="22" x2="12" y2="24.5"/>
</g></g>
<g transform="translate(434,955)">
<path d="M5 7 C12 6 15 10 14 15 C13 19 13 23 9 23.5 C5 24 5 20 5 17 C5 13 1 10 5 7 Z"/>
<circle cx="3" cy="3.5" r="1.8"/><circle cx="6.5" cy="2.2" r="1.6"/><circle cx="9.5" cy="2" r="1.4"/><circle cx="12" cy="2.8" r="1.3"/><circle cx="14" cy="4.5" r="1.2"/>
</g>
</g>
<g font-size="10.5" fill="#555">
<text x="460.6" y="921.2" textLength="158.7" lengthAdjust="spacingAndGlyphs">Look at the comment of palm marking.</text>
<text x="460.6" y="933.3" textLength="136.1" lengthAdjust="spacingAndGlyphs">It shows the muscle state of arms.</text>
<text x="460.6" y="963.4" textLength="154.4" lengthAdjust="spacingAndGlyphs">Look at the comment of foot marking.</text>
<text x="460.6" y="975.2" textLength="132.8" lengthAdjust="spacingAndGlyphs">It shows the muscle state of legs.</text>
</g>

<!-- cards -->
<g>
<!-- row 0 -->
<rect x="639.7" y="903.2" width="95.5" height="85.8" rx="7" fill="#f5cd00"/><rect x="641.5" y="905" width="91.9" height="51.5" rx="5.5" fill="#fff"/><rect x="641.5" y="950.5" width="91.9" height="6" fill="#f5cd00"/>
<rect x="745.8" y="903.2" width="95.5" height="85.8" rx="7" fill="#f0a52d"/><rect x="747.6" y="905" width="91.9" height="51.5" rx="5.5" fill="#fff"/><rect x="747.6" y="950.5" width="91.9" height="6" fill="#f0a52d"/>
<!-- row 1 -->
<rect x="426.7" y="994.3" width="95.5" height="85.8" rx="7" fill="#3db35a"/><rect x="428.5" y="996.1" width="91.9" height="51.6" rx="5.5" fill="#fff"/><rect x="428.5" y="1041.7" width="91.9" height="6" fill="#3db35a"/>
<rect x="533.2" y="994.3" width="95.5" height="85.8" rx="7" fill="#b1bf00"/><rect x="535" y="996.1" width="91.9" height="51.6" rx="5.5" fill="#fff"/><rect x="535" y="1041.7" width="91.9" height="6" fill="#b1bf00"/>
<rect x="639.7" y="994.3" width="95.5" height="85.8" rx="7" fill="#d8bc00"/><rect x="641.5" y="996.1" width="91.9" height="51.6" rx="5.5" fill="#fff"/><rect x="641.5" y="1041.7" width="91.9" height="6" fill="#d8bc00"/>
<rect x="745.8" y="994.3" width="95.5" height="85.8" rx="7" fill="#f2b52a"/><rect x="747.6" y="996.1" width="91.9" height="51.6" rx="5.5" fill="#fff"/><rect x="747.6" y="1041.7" width="91.9" height="6" fill="#f2b52a"/>
<!-- row 2 -->
<rect x="426.7" y="1086" width="95.5" height="85.8" rx="7" fill="#00ad8e"/><rect x="428.5" y="1087.8" width="91.9" height="51.6" rx="5.5" fill="#fff"/><rect x="428.5" y="1133.4" width="91.9" height="6" fill="#00ad8e"/>
<rect x="533.2" y="1086" width="95.5" height="85.8" rx="7" fill="#6bb546"/><rect x="535" y="1087.8" width="91.9" height="51.6" rx="5.5" fill="#fff"/><rect x="535" y="1133.4" width="91.9" height="6" fill="#6bb546"/>
<rect x="639.7" y="1086" width="95.5" height="85.8" rx="7" fill="#80c11f"/><rect x="641.5" y="1087.8" width="91.9" height="51.6" rx="5.5" fill="#fff"/><rect x="641.5" y="1133.4" width="91.9" height="6" fill="#80c11f"/>
<rect x="745.8" y="1086" width="95.5" height="85.8" rx="7" fill="#d2c300"/><rect x="747.6" y="1087.8" width="91.9" height="51.6" rx="5.5" fill="#fff"/><rect x="747.6" y="1133.4" width="91.9" height="6" fill="#d2c300"/>
<!-- row 3 -->
<rect x="426.7" y="1177.8" width="95.5" height="86.2" rx="7" fill="#2e9bd9"/><rect x="428.5" y="1179.6" width="91.9" height="52.1" rx="5.5" fill="#fff"/><rect x="428.5" y="1225.7" width="91.9" height="6" fill="#2e9bd9"/>
<rect x="533.2" y="1177.8" width="95.5" height="86.2" rx="7" fill="#00aae9"/><rect x="535" y="1179.6" width="91.9" height="52.1" rx="5.5" fill="#fff"/><rect x="535" y="1225.7" width="91.9" height="6" fill="#00aae9"/>
<rect x="639.7" y="1177.8" width="95.5" height="86.2" rx="7" fill="#00a5b8"/><rect x="641.5" y="1179.6" width="91.9" height="52.1" rx="5.5" fill="#fff"/><rect x="641.5" y="1225.7" width="91.9" height="6" fill="#00a5b8"/>
<rect x="745.8" y="1177.8" width="95.5" height="86.2" rx="7" fill="#95b83c"/><rect x="747.6" y="1179.6" width="91.9" height="52.1" rx="5.5" fill="#fff"/><rect x="747.6" y="1225.7" width="91.9" height="6" fill="#95b83c"/>
</g>
<g font-size="13.5" fill="#555">
<text x="647.6" y="923.7" textLength="38.1" lengthAdjust="spacingAndGlyphs">You are</text>
<text x="647.6" y="938.2" textLength="74.8" lengthAdjust="spacingAndGlyphs">rather chubby.</text>
<text x="752.9" y="923.7" textLength="78.8" lengthAdjust="spacingAndGlyphs">It will be great if</text>
<text x="752.9" y="937.6" textLength="78.2" lengthAdjust="spacingAndGlyphs">you grow more.</text>
<text x="433.5" y="1010.2" textLength="72.3" lengthAdjust="spacingAndGlyphs">You are rather</text>
<text x="433.5" y="1023.6" textLength="58.2" lengthAdjust="spacingAndGlyphs">developed.</text>
<text x="540.5" y="1010.8" textLength="31.6" lengthAdjust="spacingAndGlyphs">Good!</text>
<text x="647.6" y="1009.4" textLength="62.1" lengthAdjust="spacingAndGlyphs">Length is ok</text>
<text x="647.6" y="1023.1" textLength="68.3" lengthAdjust="spacingAndGlyphs">but you need</text>
<text x="647.6" y="1037.3" textLength="69.2" lengthAdjust="spacingAndGlyphs">more muscle.</text>
<text x="752.9" y="1010.8" textLength="76.8" lengthAdjust="spacingAndGlyphs">You look weak.</text>
<text x="433.5" y="1101.1" textLength="38.4" lengthAdjust="spacingAndGlyphs">You are</text>
<text x="433.5" y="1115.4" textLength="83.3" lengthAdjust="spacingAndGlyphs">developed though</text>
<text x="433.5" y="1128.5" textLength="65" lengthAdjust="spacingAndGlyphs">you are slim.</text>
<text x="540.5" y="1102.5" textLength="75.1" lengthAdjust="spacingAndGlyphs">Good enough.</text>
<text x="647.6" y="1101.1" textLength="60.7" lengthAdjust="spacingAndGlyphs">You are lack</text>
<text x="647.6" y="1115.4" textLength="51.7" lengthAdjust="spacingAndGlyphs">of muscle.</text>
<text x="752.9" y="1101.1" textLength="45.7" lengthAdjust="spacingAndGlyphs">You look</text>
<text x="752.9" y="1115.4" textLength="51.7" lengthAdjust="spacingAndGlyphs">too weak.</text>
<text x="433.5" y="1193.4" textLength="68.1" lengthAdjust="spacingAndGlyphs">Your muscles</text>
<text x="433.5" y="1207.1" textLength="52" lengthAdjust="spacingAndGlyphs">are like an</text>
<text x="433.5" y="1220.8" textLength="79.9" lengthAdjust="spacingAndGlyphs">athlete player’s.</text>
<text x="540.5" y="1194.2" textLength="56.2" lengthAdjust="spacingAndGlyphs">Very good!</text>
<text x="647.6" y="1193.4" textLength="62.1" lengthAdjust="spacingAndGlyphs">Your muscle</text>
<text x="647.6" y="1207.1" textLength="53.7" lengthAdjust="spacingAndGlyphs">is weak for</text>
<text x="647.6" y="1220.8" textLength="57.9" lengthAdjust="spacingAndGlyphs">the weight.</text>
</g>
<g font-size="12" fill="#555">
<text x="752.9" y="1193.4" textLength="77.4" lengthAdjust="spacingAndGlyphs">Your muscle is ok</text>
<text x="752.9" y="1207.1" textLength="81.6" lengthAdjust="spacingAndGlyphs">for the weight but</text>
<text x="752.9" y="1220.8" textLength="66.9" lengthAdjust="spacingAndGlyphs">you look weak.</text>
</g>
<!-- black hand & foot in card -->
<g fill="#111">
<g transform="translate(652,1140) scale(1.1)">
<ellipse cx="13" cy="16" rx="7" ry="7.5"/>
<g stroke="#111" stroke-width="3.4" stroke-linecap="round">
<line x1="8" y1="13" x2="6" y2="3.5"/><line x1="11.5" y1="12" x2="11.5" y2="1.5"/><line x1="15" y1="12" x2="16.5" y2="2.5"/><line x1="18" y1="14" x2="21.5" y2="6.5"/><line x1="8" y1="19" x2="2" y2="14"/>
</g></g>
<g transform="translate(682,1140)">
<path d="M5 7 C12 6 15 10 14 15 C13 19 13 23 9 23.5 C5 24 5 20 5 17 C5 13 1 10 5 7 Z"/>
<circle cx="3" cy="3.5" r="1.8"/><circle cx="6.5" cy="2.2" r="1.6"/><circle cx="9.5" cy="2" r="1.4"/><circle cx="12" cy="2.8" r="1.3"/><circle cx="14" cy="4.5" r="1.2"/>
</g>
</g>

<!-- Am I well balanced -->
<text x="867.8" y="987.4" font-size="17" font-weight="bold" fill="#555" textLength="133" lengthAdjust="spacingAndGlyphs">Am I well balanced?</text>
<rect x="861" y="997.4" width="51.5" height="87.2" rx="5" fill="#efede8"/>
<rect x="861" y="1086.9" width="51.5" height="86.1" rx="2" fill="#efede8"/>
<rect x="861" y="1175.2" width="51.5" height="88.3" rx="5" fill="#efede8"/>
<g font-size="15.5" fill="#666">
<text x="870.4" y="1047.7" textLength="34.2" lengthAdjust="spacingAndGlyphs">Arms</text>
<text x="872.2" y="1134.9" textLength="30.2" lengthAdjust="spacingAndGlyphs">Legs</text>
<text x="870.4" y="1212.1" textLength="34.2" lengthAdjust="spacingAndGlyphs">Arms</text>
<text x="882" y="1224.4">&amp;</text>
<text x="872.2" y="1237.8" textLength="30.2" lengthAdjust="spacingAndGlyphs">Legs</text>
</g>
<g fill="none" stroke="#111" stroke-width="1.8">
<circle cx="936.6" cy="1041.5" r="23.5"/>
<circle cx="936.6" cy="1130.5" r="23.5"/>
<circle cx="936.6" cy="1219.5" r="23.5"/>
</g>
<g font-size="12.5">
<g fill="#1e9a4a">
<text x="921.8" y="1039.9" textLength="29.7" lengthAdjust="spacingAndGlyphs">Balan-</text>
<text x="928.1" y="1053.3" textLength="17" lengthAdjust="spacingAndGlyphs">ced</text>
<text x="921.8" y="1127.1" textLength="29.7" lengthAdjust="spacingAndGlyphs">Balan-</text>
<text x="928.1" y="1140.5" textLength="17" lengthAdjust="spacingAndGlyphs">ced</text>
<text x="921.8" y="1217.7" textLength="29.7" lengthAdjust="spacingAndGlyphs">Balan-</text>
<text x="928.1" y="1231.1" textLength="17" lengthAdjust="spacingAndGlyphs">ced</text>
</g>
<g fill="#e0aa22">
<text x="966" y="1039.9" textLength="35.3" lengthAdjust="spacingAndGlyphs">Slightly</text>
<text x="961.5" y="1053.3" textLength="44.3" lengthAdjust="spacingAndGlyphs">Unbalan-</text>
<text x="975.1" y="1066.7" textLength="17" lengthAdjust="spacingAndGlyphs">ced</text>
<text x="966" y="1127.1" textLength="35.3" lengthAdjust="spacingAndGlyphs">Slightly</text>
<text x="961.5" y="1140.5" textLength="44.3" lengthAdjust="spacingAndGlyphs">Unbalan-</text>
<text x="975.1" y="1153.9" textLength="17" lengthAdjust="spacingAndGlyphs">ced</text>
<text x="966" y="1217.7" textLength="35.3" lengthAdjust="spacingAndGlyphs">Slightly</text>
<text x="961.5" y="1231.1" textLength="44.3" lengthAdjust="spacingAndGlyphs">Unbalan-</text>
<text x="975.1" y="1244.5" textLength="17" lengthAdjust="spacingAndGlyphs">ced</text>
</g>
<g fill="#d8603a">
<text x="1019.1" y="1039.9" textLength="47.4" lengthAdjust="spacingAndGlyphs">Extremely</text>
<text x="1021" y="1053.3" textLength="43.6" lengthAdjust="spacingAndGlyphs">Unbalan-</text>
<text x="1034.3" y="1066.7" textLength="17" lengthAdjust="spacingAndGlyphs">ced</text>
<text x="1019.1" y="1127.1" textLength="47.4" lengthAdjust="spacingAndGlyphs">Extremely</text>
<text x="1021" y="1140.5" textLength="43.6" lengthAdjust="spacingAndGlyphs">Unbalan-</text>
<text x="1034.3" y="1153.9" textLength="17" lengthAdjust="spacingAndGlyphs">ced</text>
<text x="1019.1" y="1217.7" textLength="47.4" lengthAdjust="spacingAndGlyphs">Extremely</text>
<text x="1021" y="1231.1" textLength="43.6" lengthAdjust="spacingAndGlyphs">Unbalan-</text>
<text x="1034.3" y="1244.5" textLength="17" lengthAdjust="spacingAndGlyphs">ced</text>
</g>
</g>
<g stroke="#8a8a8a" stroke-width="0.8" stroke-dasharray="1.5 1.5">
<line x1="917" y1="1085.7" x2="1066.8" y2="1085.7"/>
<line x1="917" y1="1174" x2="1066.8" y2="1174"/>
<line x1="917" y1="1263.5" x2="1066.8" y2="1263.5"/>
</g>

<!-- ===== BOTTOM NOTE ===== -->
<rect x="387" y="1367" width="20" height="21" rx="2" fill="#5b9a35"/>
<text x="397" y="1384" font-size="13" fill="#fff" text-anchor="middle">*</text>
<g font-size="14" fill="#222">
<text x="391" y="1406.7" textLength="635.7" lengthAdjust="spacingAndGlyphs">When children grows, it is not just bone that grows, but the muscle that supports the bone along with</text>
<text x="391" y="1427.5" textLength="618" lengthAdjust="spacingAndGlyphs">it. Whether children have developed muscle or not is important factor in children’s growth process</text>
<text x="391" y="1448" textLength="389" lengthAdjust="spacingAndGlyphs">since development of muscle accelerates the growth of bone.</text>
</g>
<rect x="0" y="1507.5" width="1109" height="1" fill="#5a6aa0"/>
</svg>
</body></html>
